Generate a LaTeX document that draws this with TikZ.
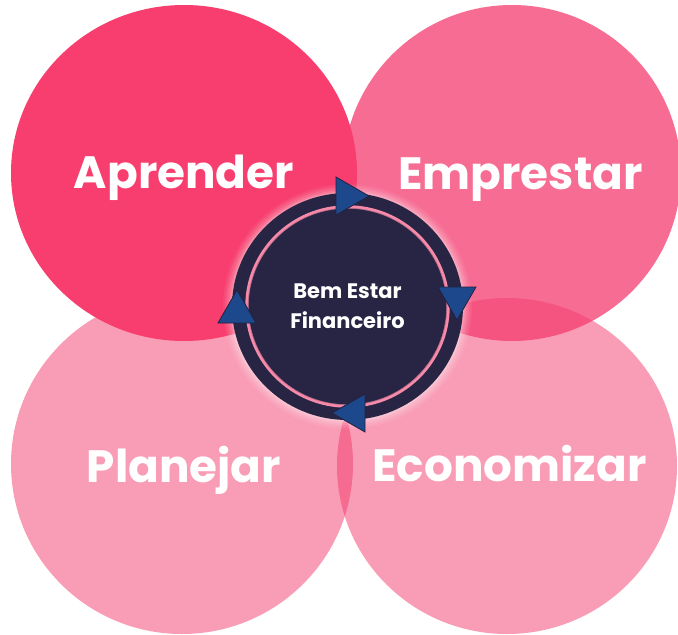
\documentclass[tikz,border=0pt]{standalone}
\usepackage{fontspec}
\setmainfont{Poppins}
\definecolor{basepink}{RGB}{245,60,110}
\definecolor{tlred}{RGB}{247,62,110}
\definecolor{navy}{RGB}{40,37,68}
\definecolor{ringpink}{RGB}{247,138,168}
\definecolor{arrowblue}{RGB}{30,72,140}
\definecolor{arrowline}{RGB}{32,34,66}
\tikzset{
  biglabel/.style={text=white, font=\bfseries\fontsize{45.3}{50}\selectfont, anchor=base, inner sep=0pt},
  centerlabel/.style={text=white, font=\bfseries\fontsize{21}{30}\selectfont, anchor=base, inner sep=0pt},
  cyclehead/.pic={\filldraw[fill=arrowblue, draw=arrowline, line width=0.8pt] (-11,-19) -- (22,0) -- (-11,19) -- cycle;}
}
\begin{document}
\begin{tikzpicture}[x=1pt,y=-1pt]
\useasboundingbox (0,0) rectangle (678,635);
\fill[white] (0,0) rectangle (678,635);
% circle centres
\coordinate (tl) at (184,173);
\coordinate (tr) at (512,173);
\coordinate (bl) at (182,464);
\coordinate (br) at (507,466);
\coordinate (c) at (347.5,306.5);
% circles
\fill[basepink, opacity=0.5] (bl) ellipse [x radius=171, y radius=170];
\fill[basepink, opacity=0.5] (br) ellipse [x radius=170, y radius=168];
\fill[basepink, opacity=0.75] (tr) ellipse [x radius=169, y radius=168];
\fill[tlred] (tl) ellipse [x radius=173, y radius=168];
% labels
\node[biglabel] (aprender) at (184,188) {Aprender};
\node[biglabel] (emprestar) at (520.5,189) {Emprestar};
\node[biglabel] (planejar) at (184,482) {Planejar};
\node[biglabel] (economizar) at (509.5,481) {Economizar};
% centre disc with glow
\foreach \d/\o in {9/0.06,7/0.08,5/0.1,3/0.12,1.5/0.15}
  \fill[white, opacity=\o] (c) ellipse [x radius=115.5+\d, y radius=113.5+\d];
\fill[navy] (c) ellipse [x radius=115.5, y radius=113.5];
\draw[ringpink, line width=3.5pt] (c) ellipse [x radius=100.5, y radius=99.5];
\fill[navy] (c) ellipse [x radius=98.6, y radius=97.6];
\draw[navy, opacity=0.35, line width=1pt] (c) ellipse [x radius=99.1, y radius=98.1];
\node[centerlabel] (bem) at (347.5,298) {Bem Estar};
\node[centerlabel] (fin) at (347.5,328) {Financeiro};
% cycle arrowheads
\pic at (347,196) {cyclehead};
\pic[rotate=-90] at (457,298) {cyclehead};
\pic[rotate=180] at (354,413) {cyclehead};
\pic[rotate=90] at (237,312) {cyclehead};
\end{tikzpicture}
\end{document}
